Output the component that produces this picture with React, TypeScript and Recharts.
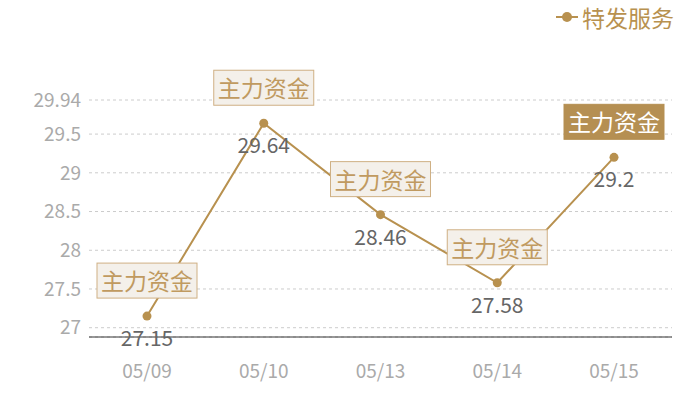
import React from 'react';
import { LineChart, Line, XAxis, YAxis, CartesianGrid, Legend, LabelList } from 'recharts';

const dates = ['05/09', '05/10', '05/13', '05/14', '05/15'];
const prices = [27.15, 29.64, 28.46, 27.58, 29.2];
const markers = ['主力资金', '主力资金', '主力资金', '主力资金', '主力资金'];
const yTicks = [27, 27.5, 28, 28.5, 29, 29.5, 29.94];

const GOLD = '#b8914f';
const FONT = '"Noto Sans CJK SC", "Noto Sans", sans-serif';

const data = dates.map((d, i) => ({ date: d, price: prices[i], marker: markers[i] }));

// box label above each point, the last one highlighted
const MarkerLabel = (props: any) => {
  const { x, y, index, value } = props;
  const last = index === data.length - 1;
  const w = 100;
  const h = 35;
  return (
    <g>
      <rect
        x={x - w / 2}
        y={y - 53}
        width={w}
        height={h}
        fill={last ? '#b58f52' : '#f4f0ea'}
        stroke={last ? '#b58f52' : '#cfb084'}
        strokeWidth={1}
      />
      <text
        x={x}
        y={y - 36}
        textAnchor="middle"
        dominantBaseline="central"
        fill={last ? '#ffffff' : '#c09a60'}
        fontSize={23}
        fontFamily={FONT}
      >
        {value}
      </text>
    </g>
  );
};

const ValueLabel = (props: any) => {
  const { x, y, value } = props;
  return (
    <text x={x} y={y + 21} textAnchor="middle" dominantBaseline="central" fill="#666" fontSize={21} fontFamily={FONT}>
      {value}
    </text>
  );
};

const renderLegend = () => (
  <div style={{ display: 'flex', alignItems: 'center', justifyContent: 'flex-end', fontFamily: FONT }}>
    <svg width={22} height={12}>
      <line x1={0} y1={6} x2={22} y2={6} stroke={GOLD} strokeWidth={2} />
      <circle cx={11} cy={6} r={5} fill={GOLD} />
    </svg>
    <span style={{ color: '#b8914f', fontSize: 23, marginLeft: 4, lineHeight: '30px' }}>特发服务</span>
  </div>
);

export default function App() {
  return (
    <div style={{ position: 'absolute', left: 0, top: 0, background: '#fff' }}>
      <LineChart width={700} height={400} data={data} margin={{ top: 70, right: 28, bottom: 23, left: 0 }}>
        <CartesianGrid horizontal vertical={false} stroke="#cccccc" strokeDasharray="3 3" />
        <XAxis
          dataKey="date"
          padding={{ left: 58, right: 58 }}
          axisLine={{ stroke: '#333', strokeWidth: 1 }}
          tickLine={false}
          tickMargin={22}
          height={40}
          tick={{ fill: '#aaaaaa', fontSize: 19, fontFamily: FONT }}
        />
        <YAxis
          type="number"
          domain={[26.88, 29.94]}
          ticks={yTicks}
          interval={0}
          width={89}
          axisLine={false}
          tickLine={false}
          tick={{ fill: '#aaaaaa', fontSize: 19, fontFamily: FONT }}
        />
        <Legend
          verticalAlign="top"
          align="right"
          content={renderLegend}
          wrapperStyle={{ top: 2, right: 26, width: 'auto' }}
        />
        <Line
          type="linear"
          dataKey="price"
          name="特发服务"
          stroke={GOLD}
          strokeWidth={2}
          dot={{ r: 4.5, fill: GOLD, stroke: GOLD, strokeWidth: 0 }}
          isAnimationActive={false}
        >
          <LabelList dataKey="price" content={ValueLabel} />
          <LabelList dataKey="marker" content={MarkerLabel} />
        </Line>
      </LineChart>
    </div>
  );
}
